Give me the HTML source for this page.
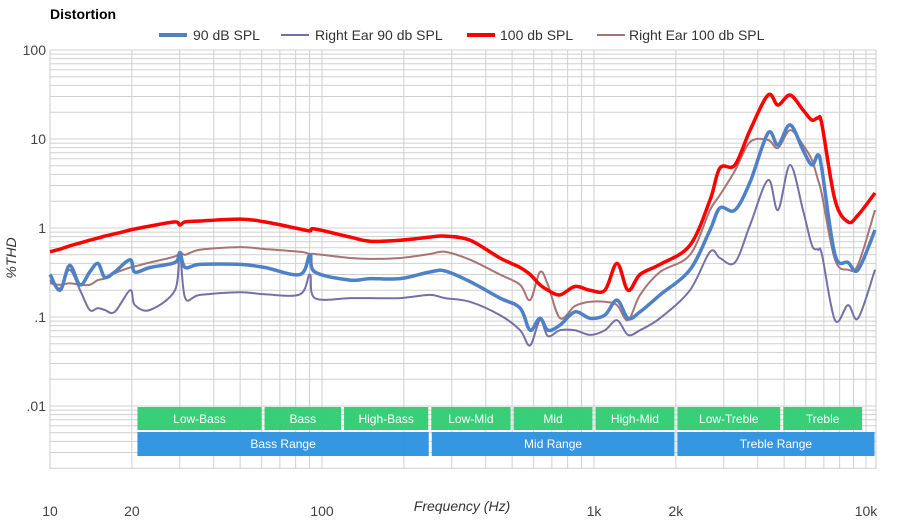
<!DOCTYPE html>
<html><head><meta charset="utf-8"><style>
body{margin:0;background:#fff;font-family:"Liberation Sans",Arial,sans-serif}
svg text{font-family:"Liberation Sans",Arial,sans-serif}
</style></head><body>
<svg id="chart" width="900" height="520" viewBox="0 0 900 520" xmlns="http://www.w3.org/2000/svg">
<text x="50" y="19" font-size="14" font-weight="bold" fill="#000">Distortion</text>
<g id="grid"></g>
<g id="bands"></g>
<g id="series"></g>
<g id="axes"></g>
<g font-size="14" fill="#333">
<g><line x1="159" y1="35" x2="187" y2="35" stroke="#4f81c7" stroke-width="4"/><text x="193" y="40">90 dB SPL</text></g>
<g><line x1="281" y1="35" x2="309" y2="35" stroke="#7570a8" stroke-width="2"/><text x="315" y="40">Right Ear 90 db SPL</text></g>
<g><line x1="467" y1="35" x2="495" y2="35" stroke="#ff0000" stroke-width="4"/><text x="500" y="40">100 db SPL</text></g>
<g><line x1="597" y1="35" x2="625" y2="35" stroke="#a87474" stroke-width="2"/><text x="629" y="40">Right Ear 100 db SPL</text></g>
</g>
<text transform="translate(16,258) rotate(-90)" text-anchor="middle" font-size="14" font-style="italic" fill="#333">%THD</text>
<text x="462" y="511" text-anchor="middle" font-size="14" font-style="italic" fill="#333">Frequency (Hz)</text>
</svg>
<script>
const freqs=[10,10.9,11.8,12.9,14.0,15.0,15.9,17.3,19.7,20.5,23.3,28.8,30.0,31.4,35.6,50,61.7,83,90.3,94.2,127,150,194,249,283,350,451,535,582,633,677,750,851,967,1097,1215,1334,1476,1749,2254,2669,2904,3297,3748,4365,4748,5258,5866,6324,6662,6890,7690,8590,9351,10790];
const red100=[0.54,0.58,0.63,0.68,0.73,0.77,0.81,0.86,0.95,0.975,1.05,1.17,1.08,1.17,1.20,1.26,1.17,0.975,0.925,0.975,0.79,0.71,0.73,0.79,0.81,0.73,0.46,0.36,0.30,0.23,0.20,0.177,0.22,0.20,0.20,0.40,0.20,0.30,0.39,0.64,2.06,4.72,5.11,12.6,31.2,24.1,31.2,21.2,16.3,17.2,14.4,2.06,1.17,1.40,2.47];
const blue90=[0.30,0.20,0.38,0.23,0.32,0.40,0.28,0.32,0.44,0.32,0.36,0.41,0.52,0.36,0.39,0.39,0.36,0.30,0.50,0.32,0.26,0.27,0.27,0.32,0.33,0.25,0.163,0.126,0.071,0.097,0.071,0.081,0.114,0.097,0.105,0.155,0.097,0.114,0.177,0.34,0.95,1.68,1.59,3.29,11.7,8.57,14.4,7.52,5.11,6.61,4.49,0.50,0.41,0.34,0.95];
const rightEar90=[0.26,0.21,0.34,0.20,0.12,0.126,0.12,0.114,0.20,0.136,0.12,0.20,0.54,0.163,0.177,0.19,0.18,0.18,0.30,0.163,0.163,0.163,0.163,0.177,0.163,0.148,0.105,0.071,0.048,0.092,0.061,0.071,0.071,0.063,0.071,0.092,0.063,0.071,0.097,0.20,0.54,0.46,0.41,1.08,3.46,1.59,5.11,1.59,0.64,0.57,0.50,0.092,0.136,0.097,0.34];
const rightEar100=[0.24,0.23,0.24,0.23,0.23,0.26,0.27,0.31,0.36,0.37,0.41,0.48,0.54,0.50,0.57,0.61,0.58,0.54,0.51,0.51,0.46,0.45,0.46,0.51,0.54,0.44,0.30,0.23,0.155,0.32,0.23,0.097,0.133,0.148,0.148,0.136,0.092,0.177,0.32,0.50,1.59,2.35,4.4,9.25,9.75,7.93,12.6,8.57,5.81,3.46,2.35,0.44,0.34,0.39,1.59];
const xTickVals=[10,20,100,1000,2000,10000];
const xTickLabels=["10","20","100","1k","2k","10k"];
const yTickVals=[100,10,1,0.1,0.01];
const yTickLabels=["100","10","1",".1",".01"];
const bandNames=["Low-Bass","Bass","High-Bass","Low-Mid","Mid","High-Mid","Low-Treble","Treble"];
const bandEdges=[20.7,60.7,119,249,500,1000,2000,4900,9800];
const rangeNames=["Bass Range","Mid Range","Treble Range"];
const rangeEdges=[20.7,250,2000,11000];

const NS="http://www.w3.org/2000/svg";
const L=50,R=876,T=50,B=469;
const X=f=>50+Math.log10(f/10)*272;
const Y=v=>50+(2-Math.log10(v))*89;
function mk(tag,attrs,parent){const e=document.createElementNS(NS,tag);for(const k in attrs)e.setAttribute(k,attrs[k]);parent.appendChild(e);return e;}
const grid=document.getElementById('grid');
for(let d=10;d<=10000;d*=10){for(let m=1;m<=9;m++){const f=d*m;const x=X(f);if(x>R+0.5)continue;
 const l=mk('line',{x1:x,y1:T,x2:x,y2:B,stroke:'#d0d0d0','stroke-width':1},grid);
 
 }}
for(let d=0.001;d<=100;d*=10){for(let m=1;m<=9;m++){const v=d*m;const y=Y(v);if(y<T-0.5||y>B+0.5)continue;
 const l=mk('line',{x1:L,y1:y,x2:R,y2:y,stroke:'#d0d0d0','stroke-width':1},grid);
 
 }}
mk('line',{x1:L,y1:T,x2:L,y2:B,stroke:'#ccc'},grid);
mk('line',{x1:R,y1:T,x2:R,y2:B,stroke:'#ccc'},grid);
const bands=document.getElementById('bands');
bandNames.forEach((n,i)=>{const x1=X(bandEdges[i])+1.5,x2=X(bandEdges[i+1])-1.5;
 const r=mk('rect',{x:x1,y:407,width:x2-x1,height:23,fill:'#2ecc71',opacity:0.95},bands);
 
 
 const t=mk('text',{x:(x1+x2)/2,y:423,'text-anchor':'middle','font-size':12,fill:'#fff'},bands);t.textContent=n;
 
 });
rangeNames.forEach((n,i)=>{const x1=X(rangeEdges[i])+1.5,x2=Math.min(X(rangeEdges[i+1]),R)-1.5;
 const r=mk('rect',{x:x1,y:432,width:x2-x1,height:24,fill:'#2e93e0',opacity:0.97},bands);
 
 
 const t=mk('text',{x:(x1+x2)/2,y:448,'text-anchor':'middle','font-size':12,fill:'#fff'},bands);t.textContent=n;
 
 });
const axes=document.getElementById('axes');
xTickVals.forEach((f,i)=>{const t=mk('text',{x:X(f),y:516,'text-anchor':'middle','font-size':14,fill:'#444'},axes);t.textContent=xTickLabels[i];
 
 });
yTickVals.forEach((v,i)=>{const t=mk('text',{x:46,y:Y(v)+5,'text-anchor':'end','font-size':14,fill:'#444'},axes);t.textContent=yTickLabels[i];
 
 });
function pathFor(vals){const p=freqs.map((f,i)=>[X(f),Y(vals[i])]);let d='M'+p[0][0].toFixed(1)+','+p[0][1].toFixed(1);
 for(let i=0;i<p.length-1;i++){const p0=p[Math.max(0,i-1)],p1=p[i],p2=p[i+1],p3=p[Math.min(p.length-1,i+2)];const k=1/6;
 const c1=[p1[0]+(p2[0]-p0[0])*k,p1[1]+(p2[1]-p0[1])*k],c2=[p2[0]-(p3[0]-p1[0])*k,p2[1]-(p3[1]-p1[1])*k];
 d+='C'+c1.map(v=>v.toFixed(1))+' '+c2.map(v=>v.toFixed(1))+' '+p2.map(v=>v.toFixed(1));}return d;}
const sg=document.getElementById('series');
[[rightEar100,'#a87474',2,'line-right-ear-100db'],[rightEar90,'#7570a8',2,'line-right-ear-90db'],[blue90,'#4f81c7',3.5,'line-90db'],[red100,'#ff0000',3.5,'line-100db']].forEach(s=>{
 const p=mk('path',{d:pathFor(s[0]),fill:'none',stroke:s[1],'stroke-width':s[2],'stroke-linejoin':'round'},sg);
 
 });
</script>
</body></html>
